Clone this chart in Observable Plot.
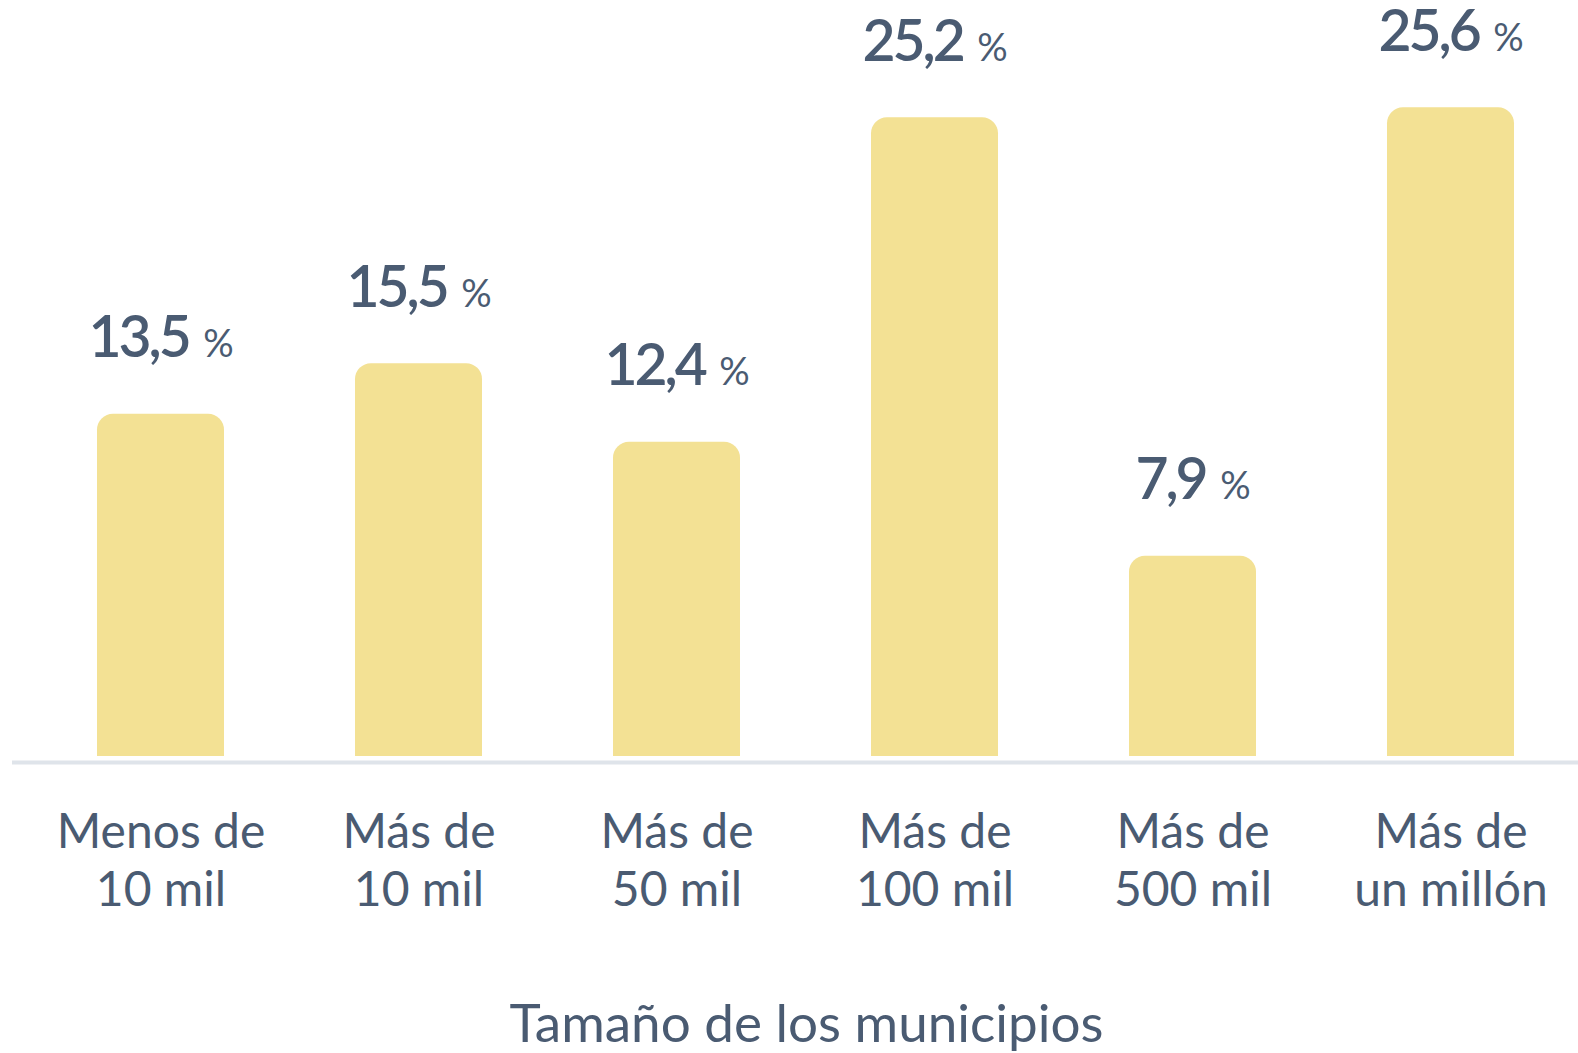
<!DOCTYPE html>
<html>
<head>
<meta charset="utf-8">
<script src="https://cdn.jsdelivr.net/npm/d3@7"></script>
<script src="https://cdn.jsdelivr.net/npm/@observablehq/plot@0.6"></script>
<style>
  html, body { margin: 0; padding: 0; background: #ffffff; }
  #chart svg { display: block; }
</style>
</head>
<body>
<div id="chart"></div>
<script>
// ---- data ----
const categories = [
  "Menos de\n10 mil",
  "Más de\n10 mil",
  "Más de\n50 mil",
  "Más de\n100 mil",
  "Más de\n500 mil",
  "Más de\nun millón"
];
const values = [13.5, 15.5, 12.4, 25.2, 7.9, 25.6];
const xTitle = "Tamaño de los municipios";

const data = categories.map((c, i) => ({cat: c, value: values[i]}));
const fmt = v => v.toFixed(1).replace(".", ",");

const barColor = "#f3e194";
const textColor = "#4a5b72";
const font = "Lato, 'Open Sans', sans-serif";

const plot = Plot.plot({
  width: 1578,
  height: 1053,
  marginTop: 0,
  marginBottom: 297,
  marginLeft: 0,
  marginRight: 0,
  style: {fontFamily: font, background: "#ffffff", overflow: "visible"},
  x: {domain: categories, range: [0, 1610], paddingInner: 0.508, paddingOuter: 0.372, align: 0.5, axis: null},
  y: {domain: [0, 29.83], axis: null},
  marks: [
    Plot.ruleY([0], {stroke: "#dfe4ea", strokeWidth: 4, dy: 6, insetLeft: 12}),
    Plot.barY(data, {x: "cat", y: "value", fill: barColor, rx: 16}),
    Plot.barY(data, {x: "cat", y1: 0, y2: 1, fill: barColor}),
    Plot.text(data, {
      x: "cat", y: "value", text: d => fmt(d.value) + " %",
      dy: -57, lineAnchor: "bottom", fontSize: 54, fontWeight: 600, fill: textColor
    }),
    Plot.text(categories, {
      x: d => d, text: d => d, frameAnchor: "bottom", lineAnchor: "top",
      dy: 51, fontSize: 48, lineHeight: 1.2, fontWeight: 400, fill: textColor
    }),
    Plot.text([xTitle], {
      text: d => d, frameAnchor: "bottom", lineAnchor: "bottom",
      dy: 285, dx: 17, fontSize: 53, fontWeight: 400, fill: textColor
    })
  ]
});

// split value labels into a large number and a smaller percent sign
d3.select(plot).selectAll("text").each(function () {
  const t = this.textContent;
  if (this.children.length === 0 && / %$/.test(t)) {
    const num = t.slice(0, -2);
    const sel = d3.select(this);
    sel.text(null);
    sel.append("tspan").attr("font-size", 57).attr("font-weight", 600).attr("letter-spacing", "-3").text(num);
    sel.append("tspan").attr("font-size", 38).attr("font-weight", 400).text("\u2009 %");
  }
});

document.getElementById("chart").appendChild(plot);
</script>
</body>
</html>
